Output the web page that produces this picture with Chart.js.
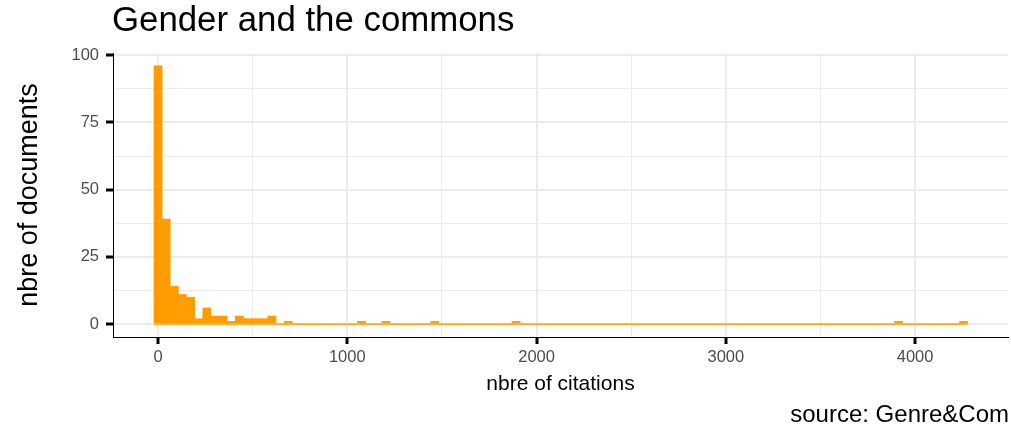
<!DOCTYPE html>
<html>
<head>
<meta charset="utf-8">
<script src="https://cdn.jsdelivr.net/npm/chart.js@4/dist/chart.umd.min.js"></script>
<style>
  html, body { margin: 0; padding: 0; background: #fff; }
  #wrap { width: 1011px; height: 434px; }
</style>
</head>
<body>
<div id="wrap"><canvas id="hist" width="1011" height="434"></canvas></div>
<script>
// histogram of citation counts, 100 bins
const binWidth = 43;
const counts = [
  96, 39, 14, 11, 10, 2, 6, 3, 3, 1,
  3, 2, 2, 2, 3, 0, 1, 0, 0, 0,
  0, 0, 0, 0, 0, 1, 0, 0, 1, 0,
  0, 0, 0, 0, 1, 0, 0, 0, 0, 0,
  0, 0, 0, 0, 1, 0, 0, 0, 0, 0,
  0, 0, 0, 0, 0, 0, 0, 0, 0, 0,
  0, 0, 0, 0, 0, 0, 0, 0, 0, 0,
  0, 0, 0, 0, 0, 0, 0, 0, 0, 0,
  0, 0, 0, 0, 0, 0, 0, 0, 0, 0,
  0, 1, 0, 0, 0, 0, 0, 0, 0, 1
];
const xTicks = [0, 1000, 2000, 3000, 4000];
const yTicks = [0, 25, 50, 75, 100];

const titleText = 'Gender and the commons';
const xTitle = 'nbre of citations';
const yTitle = 'nbre of documents';
const captionText = 'source: Genre&Com';

const barData = counts.map((c, i) => ({ x: i * binWidth, y: c }));
const lastCenter = (counts.length - 1) * binWidth;
const baseLine = [
  { x: -binWidth / 2, y: 0 },
  { x: lastCenter + binWidth / 2, y: 0 }
];

const FONT = "'Liberation Sans', Arial, Helvetica, sans-serif";
const ORANGE = '#FF9D00';

const textPlugin = {
  id: 'texts',
  afterDraw(chart) {
    const ctx = chart.ctx;
    ctx.save();
    ctx.fillStyle = '#000';
    ctx.textBaseline = 'alphabetic';
    ctx.font = '34.8px ' + FONT;
    ctx.textAlign = 'left';
    ctx.fillText(titleText, chart.chartArea.left - 1, 31);
    ctx.font = '24px ' + FONT;
    ctx.textAlign = 'right';
    ctx.fillText(captionText, 1009, 422);
    ctx.restore();
  }
};

const isMajor = (list, c) => !!(c.tick && list.includes(c.tick.value));

new Chart(document.getElementById('hist'), {
  type: 'bar',
  data: {
    datasets: [
      {
        type: 'line',
        data: baseLine,
        borderColor: ORANGE,
        borderWidth: 1.2,
        pointRadius: 0,
        order: 2
      },
      {
        data: barData,
        backgroundColor: ORANGE,
        borderWidth: 0,
        barPercentage: 1,
        categoryPercentage: 1,
        order: 1
      }
    ]
  },
  options: {
    responsive: false,
    animation: false,
    layout: { padding: { top: 53, left: 0, right: 3, bottom: 37 } },
    plugins: {
      legend: { display: false },
      tooltip: { enabled: false }
    },
    scales: {
      x: {
        type: 'linear',
        offset: false,
        min: -238,
        max: 4491,
        afterBuildTicks: s => { s.ticks = [0, 500, 1000, 1500, 2000, 2500, 3000, 3500, 4000].map(v => ({ value: v })); },
        afterFit: s => { s.height = 60; },
        grid: {
          offset: false,
          color: '#EBEBEB',
          lineWidth: c => isMajor(xTicks, c) ? 2 : 1,
          tickColor: c => isMajor(xTicks, c) ? '#000' : 'rgba(0,0,0,0)',
          tickWidth: 3,
          tickLength: 7
        },
        border: { display: true, color: '#000', width: 1 },
        ticks: {
          autoSkip: false,
          maxRotation: 0,
          padding: 4,
          color: '#4D4D4D',
          font: { family: FONT, size: 16.5 },
          callback: v => xTicks.includes(v) ? String(v) : ''
        },
        title: {
          display: true,
          text: xTitle,
          color: '#000',
          font: { family: FONT, size: 21 },
          padding: { top: 0, bottom: 0 }
        }
      },
      y: {
        min: -4.8,
        max: 100.8,
        afterBuildTicks: s => { s.ticks = [0, 12.5, 25, 37.5, 50, 62.5, 75, 87.5, 100].map(v => ({ value: v })); },
        afterFit: s => { s.width = 113; },
        grid: {
          color: '#EBEBEB',
          lineWidth: c => isMajor(yTicks, c) ? 2 : 1,
          tickColor: c => isMajor(yTicks, c) ? '#000' : 'rgba(0,0,0,0)',
          tickWidth: 3,
          tickLength: 7
        },
        border: { display: true, color: '#000', width: 1 },
        ticks: {
          autoSkip: false,
          padding: 7,
          color: '#4D4D4D',
          font: { family: FONT, size: 16.5 },
          callback: v => yTicks.includes(v) ? String(v) : ''
        },
        title: {
          display: true,
          text: yTitle,
          color: '#000',
          font: { family: FONT, size: 27 },
          padding: { top: 13, bottom: 0 }
        }
      }
    }
  },
  plugins: [textPlugin]
});
</script>
</body>
</html>
